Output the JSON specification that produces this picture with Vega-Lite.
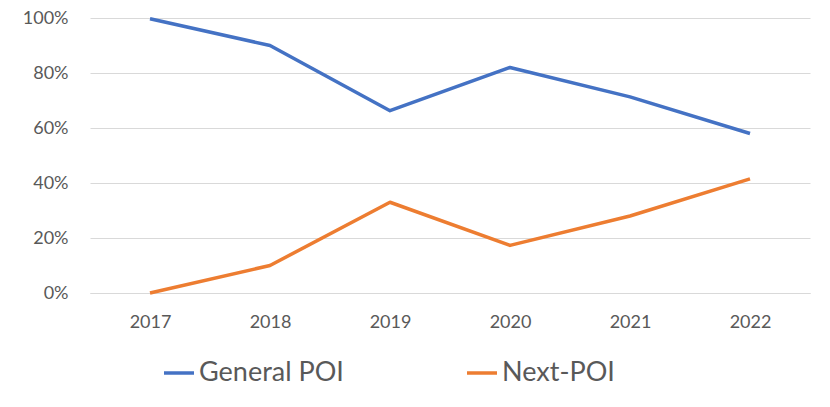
{
  "$schema": "https://vega.github.io/schema/vega-lite/v6.json",
  "width": 720,
  "height": 275,
  "autosize": {"type": "none"},
  "padding": {"left": 90, "top": 18, "right": 20, "bottom": 114},
  "background": "white",
  "config": {"view": {"stroke": null}},
  "data": {
    "values": [
      {"year": "2017", "series": "General POI", "share": 0.997},
      {"year": "2018", "series": "General POI", "share": 0.9},
      {"year": "2019", "series": "General POI", "share": 0.663},
      {"year": "2020", "series": "General POI", "share": 0.82},
      {"year": "2021", "series": "General POI", "share": 0.713},
      {"year": "2022", "series": "General POI", "share": 0.58},
      {"year": "2017", "series": "Next-POI", "share": 0.0},
      {"year": "2018", "series": "Next-POI", "share": 0.1},
      {"year": "2019", "series": "Next-POI", "share": 0.33},
      {"year": "2020", "series": "Next-POI", "share": 0.173},
      {"year": "2021", "series": "Next-POI", "share": 0.28},
      {"year": "2022", "series": "Next-POI", "share": 0.415}
    ]
  },
  "mark": {"type": "line", "strokeWidth": 3.5, "strokeJoin": "round"},
  "encoding": {
    "x": {
      "field": "year",
      "type": "ordinal",
      "title": null,
      "scale": {"type": "point", "padding": 0.5},
      "axis": {
        "labelAngle": 0,
        "domain": true,
        "domainColor": "#d9d9d9",
        "ticks": false,
        "labelPadding": 20,
        "labelFont": "Lato",
        "labelFontSize": 18,
        "labelColor": "#595959"
      }
    },
    "y": {
      "field": "share",
      "type": "quantitative",
      "title": null,
      "scale": {"domain": [0, 1]},
      "axis": {
        "format": ".0%",
        "values": [0, 0.2, 0.4, 0.6, 0.8, 1.0],
        "domain": false,
        "ticks": false,
        "grid": true,
        "gridColor": "#d9d9d9",
        "gridWidth": 1,
        "labelPadding": 22,
        "labelFont": "Lato",
        "labelFontSize": 18,
        "labelColor": "#595959"
      }
    },
    "color": {
      "field": "series",
      "type": "nominal",
      "scale": {"domain": ["General POI", "Next-POI"], "range": ["#4472C4", "#ED7D31"]},
      "legend": {
        "title": null,
        "orient": "none",
        "direction": "horizontal",
        "legendX": 72,
        "legendY": 338,
        "symbolType": "stroke",
        "symbolSize": 900,
        "symbolStrokeWidth": 3.5,
        "labelFont": "Lato",
        "labelFontSize": 27,
        "labelColor": "#595959",
        "labelOffset": 3,
        "columnPadding": 116
      }
    }
  }
}
